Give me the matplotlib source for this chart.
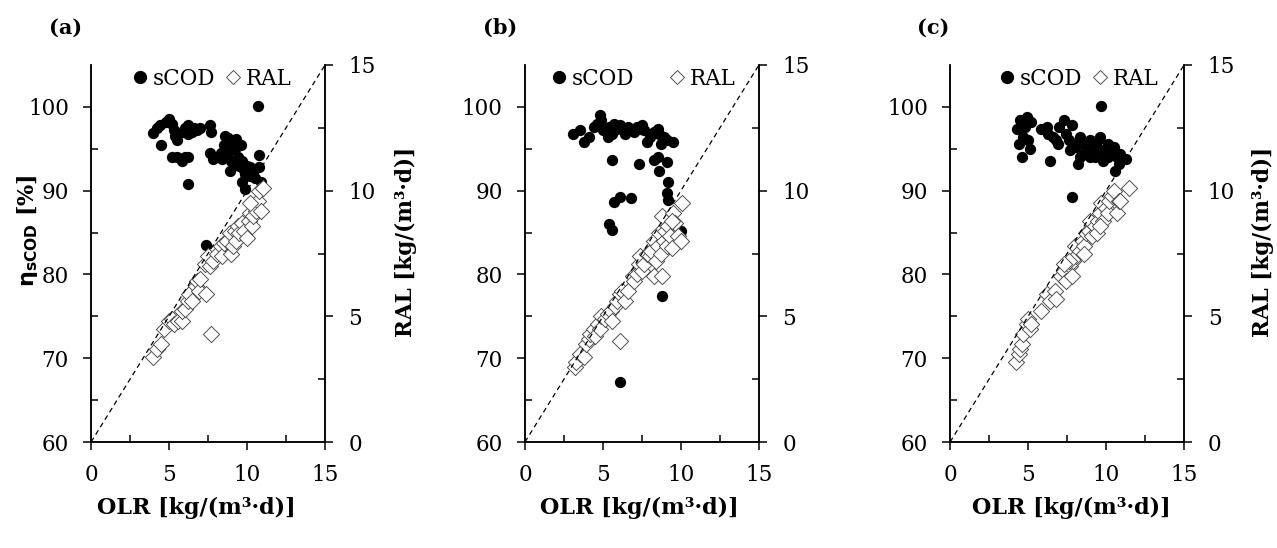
import numpy as np
import matplotlib
matplotlib.use('Agg')
import matplotlib.pyplot as plt
from matplotlib.lines import Line2D

plt.rcParams['font.family'] = 'DejaVu Serif'
plt.rcParams['font.size'] = 15
plt.rcParams['mathtext.fontset'] = 'custom'
plt.rcParams['mathtext.bf'] = 'DejaVu Sans:bold'
plt.rcParams['mathtext.rm'] = 'DejaVu Serif'

# ---- panel (a) ----
a_cod_olr = [4.0, 4.2, 4.4, 4.5, 4.8, 5.0, 5.2, 5.3, 5.4, 5.5, 5.2, 5.5, 5.8, 6.0, 6.2,
             6.2, 5.9, 6.0, 6.2, 6.4, 6.6, 6.8, 7.0, 6.2, 6.5, 7.6, 7.7, 7.6, 7.8, 7.4,
             10.7, 10.8, 10.8, 10.9, 9.9, 9.7, 8.5, 8.6, 8.7, 8.8, 8.9, 9.0, 9.0, 8.9,
             9.2, 9.3, 9.4, 9.5, 9.6, 9.7, 9.8, 10.0, 10.2, 10.4, 10.5, 8.3, 8.4, 8.7,
             9.0, 9.3, 9.9, 10.2]
a_cod_eta = [96.9, 97.5, 97.8, 95.5, 98.2, 98.6, 98.0, 97.3, 96.5, 96.0, 94.0, 94.0, 93.6,
             94.0, 94.0, 90.8, 97.0, 97.5, 97.8, 97.5, 97.5, 97.3, 97.5, 96.8, 97.0, 97.8,
             97.0, 94.5, 93.8, 83.5, 100.1, 94.3, 92.8, 91.0, 90.2, 91.0, 95.5, 96.5, 95.0,
             96.3, 94.8, 95.5, 96.0, 92.4, 95.0, 96.2, 94.0, 93.0, 95.5, 93.5, 92.5, 93.0,
             92.8, 92.0, 91.5, 94.5, 93.8, 94.2, 93.5, 93.2, 92.0, 91.8]
a_ral_olr = [4.0, 4.2, 4.5, 4.7, 5.0, 5.2, 5.3, 5.6, 5.8, 5.8, 6.0, 6.2, 6.3, 6.5, 6.7,
             6.8, 6.9, 7.0, 7.4, 7.7, 7.3, 7.5, 7.6, 7.8, 8.1, 8.3, 8.4, 8.5, 8.7, 8.9,
             9.0, 9.1, 9.2, 9.3, 9.4, 9.5, 9.7, 9.8, 10.0, 10.1, 10.2, 10.3, 10.4, 10.5,
             10.6, 10.7, 10.8, 10.9, 11.0, 10.2]
a_ral = [3.4, 3.7, 3.9, 4.5, 4.8, 4.9, 4.7, 4.8, 4.8, 5.2, 5.3, 5.6, 5.9, 5.6, 6.2,
         6.4, 6.0, 6.5, 5.9, 4.3, 7.1, 7.4, 7.0, 7.2, 7.5, 7.8, 7.4, 7.9, 8.0, 8.3,
         7.5, 7.8, 8.4, 8.0, 8.6, 8.3, 8.7, 8.4, 8.1, 8.8, 9.1, 8.6, 9.0, 9.4,
         9.2, 9.6, 10.0, 9.2, 10.1, 9.5]

# ---- panel (b) ----
b_cod_olr = [3.1, 3.5, 3.8, 4.1, 4.4, 4.6, 4.8, 4.9, 5.0, 5.3, 5.4, 5.6, 5.7, 5.9, 6.1,
             6.4, 6.6, 7.0, 7.2, 7.4, 7.5, 7.6, 7.8, 8.0, 8.3, 8.5, 8.6, 8.7, 8.9, 9.1,
             9.5, 5.6, 7.3, 8.3, 8.6, 8.5, 9.1, 9.2, 9.1, 9.2, 5.7, 6.1, 6.8, 5.4, 5.6,
             8.8, 10.0, 6.1]
b_cod_eta = [96.8, 97.2, 95.8, 96.4, 97.6, 98.0, 99.0, 98.4, 97.2, 96.4, 97.6, 96.8, 98.0,
             97.4, 97.8, 96.8, 97.6, 97.0, 97.6, 97.4, 97.8, 97.2, 95.8, 96.4, 97.0, 97.4,
             96.8, 95.6, 96.4, 96.0, 95.8, 93.7, 93.2, 93.7, 92.4, 94.0, 93.4, 91.0, 89.7,
             88.9, 88.7, 89.3, 89.1, 86.0, 85.3, 77.4, 85.2, 67.2]
b_ral_olr = [3.2, 3.3, 3.5, 3.8, 3.9, 4.1, 4.2, 4.4, 4.5, 4.7, 4.8, 4.9, 5.1, 5.3, 5.5,
             5.6, 5.8, 5.9, 6.1, 6.2, 6.1, 6.4, 6.6, 6.9, 7.0, 7.2, 7.3, 7.4, 7.5, 7.6,
             7.8, 8.0, 8.1, 8.3, 8.3, 8.4, 8.5, 8.6, 8.7, 8.8, 8.8, 8.9, 9.0, 9.1, 9.2,
             9.3, 9.4, 9.5, 9.6, 9.8, 10.0, 10.1, 9.4]
b_ral = [3.0, 3.2, 3.5, 3.4, 3.9, 4.1, 4.3, 4.5, 4.2, 4.7, 4.5, 5.0, 4.9, 5.1, 5.2,
         4.8, 5.4, 5.6, 5.9, 6.0, 4.0, 5.6, 6.0, 6.6, 6.4, 6.7, 7.1, 7.4, 6.8, 7.1,
         7.5, 7.4, 7.6, 6.6, 8.0, 7.2, 7.8, 8.3, 7.5, 9.0, 6.6, 8.0, 8.4, 7.8, 8.6,
         8.2, 7.7, 9.1, 8.7, 8.2, 8.0, 9.5, 8.8]

# ---- panel (c) ----
c_cod_olr = [4.3, 4.4, 4.5, 4.7, 4.8, 4.9, 5.0, 5.1, 5.2, 4.6, 5.8, 6.2, 6.3, 6.4, 6.6,
             6.8, 7.0, 7.3, 7.4, 7.6, 7.8, 7.9, 8.1, 8.2, 8.3, 8.6, 8.6, 8.8, 9.0, 9.2,
             9.3, 9.5, 9.6, 9.7, 9.8, 10.1, 10.3, 10.5, 10.6, 10.7, 10.9, 11.3, 9.7, 7.8,
             6.9, 7.7, 8.3, 9.0, 10.1, 9.4, 10.8]
c_cod_eta = [97.4, 95.6, 98.4, 96.4, 97.6, 98.8, 96.0, 95.0, 98.2, 94.0, 97.4, 97.6, 96.8,
             93.5, 96.4, 96.0, 97.6, 98.4, 96.8, 96.0, 97.8, 95.6, 95.2, 93.2, 96.4, 95.6,
             94.4, 94.8, 96.0, 95.2, 94.0, 96.0, 96.4, 94.8, 93.6, 95.6, 94.8, 95.2, 92.4,
             94.0, 94.4, 93.8, 100.1, 89.3, 95.6, 94.8, 94.0, 94.0, 94.0, 94.4, 93.2]
c_ral_olr = [4.2, 4.4, 4.5, 4.6, 4.7, 4.9, 5.0, 5.1, 5.2, 5.8, 6.2, 6.4, 6.7, 6.8, 7.1,
             7.3, 7.4, 7.7, 7.8, 7.9, 8.0, 8.1, 8.3, 8.5, 8.6, 8.7, 8.9, 9.0, 9.1, 9.3,
             9.4, 9.5, 9.6, 9.7, 9.8, 10.0, 10.1, 10.2, 10.4, 10.5, 10.7, 10.8, 10.9, 11.5,
             7.6, 8.6, 9.6, 7.3]
c_ral = [3.2, 3.5, 3.7, 3.9, 4.3, 4.7, 4.9, 4.5, 4.7, 5.2, 5.9, 5.6, 6.0, 5.7, 6.6,
         6.8, 6.4, 7.0, 6.6, 7.2, 7.8, 7.4, 7.6, 8.0, 7.8, 8.3, 8.4, 8.8, 8.2, 8.6,
         8.3, 8.8, 9.1, 9.5, 8.8, 9.3, 9.1, 9.6, 9.8, 10.0, 9.1, 9.6, 9.6, 10.1,
         7.2, 7.5, 8.6, 7.1]

panels = ['(a)', '(b)', '(c)']
one_to_one = [0, 15]

fig = plt.figure(figsize=(12.77, 5.48), dpi=100)
lefts = [0.0713, 0.4111, 0.7440]
label_x = [0.051, 0.392, 0.731]
xlabel_pos = [0.45, 0.49, 0.52]
ral_label_x = [1.30, None, 1.29]
leg_x = [0.51, 0.50, 0.545]
leg_sp = [0.3, 1.5, 0.3]
data = [(a_cod_olr, a_cod_eta, a_ral_olr, a_ral),
        (b_cod_olr, b_cod_eta, b_ral_olr, b_ral),
        (c_cod_olr, c_cod_eta, c_ral_olr, c_ral)]

for i, (co, ce, ro, rv) in enumerate(data):
    ax = fig.add_axes([lefts[i], 0.1934, 0.1832, 0.688])
    ax2 = ax.twinx()
    ax.scatter(co, ce, s=66, color='black', zorder=3, linewidths=0)
    ax2.scatter(ro, rv, s=68, marker='D', facecolor='white', edgecolor='#505050',
                linewidths=0.7, zorder=3)
    ax2.plot(one_to_one, one_to_one, color='black', lw=0.9, ls=(0, (4, 3)), zorder=4)

    ax.set_xlim(0, 15)
    ax.set_ylim(60, 105)
    ax2.set_ylim(0, 15)
    ax.set_xticks([0, 5, 10, 15])
    ax.set_xticks([2.5, 7.5, 12.5], minor=True)
    ax.set_yticks([60, 70, 80, 90, 100])
    ax.set_yticks([65, 75, 85, 95], minor=True)
    ax2.set_yticks([0, 5, 10, 15])
    ax2.set_yticks([2.5, 7.5, 12.5], minor=True)

    for a in (ax, ax2):
        a.spines['top'].set_visible(False)
        for s in a.spines.values():
            s.set_linewidth(1.1)
        a.tick_params(which='major', direction='out', length=6, width=1.1)
        a.tick_params(which='minor', direction='in', length=5, width=1.1)
    ax.tick_params(axis='both', which='major', pad=10, labelsize=15.5)
    ax2.tick_params(axis='y', which='major', pad=11, labelsize=15.5)

    ax.set_xlabel('OLR [kg/(m³·d)]', fontweight='bold', fontsize=16)
    ax.xaxis.set_label_coords(xlabel_pos[i], -0.145)
    if i == 0:
        ax.set_ylabel(r'$\mathbf{\eta}_{\mathbf{sCOD}}$ [%]', fontweight='bold', fontsize=16)
        ax.yaxis.set_label_coords(-0.22, 0.56)
    if ral_label_x[i] is not None:
        ax2.set_ylabel('RAL [kg/(m³·d)]', fontweight='bold', fontsize=15.5)
        ax2.yaxis.set_label_coords(ral_label_x[i], 0.53)

    handles = [Line2D([], [], marker='o', color='black', ls='none', markersize=8.5),
               Line2D([], [], marker='D', markerfacecolor='white', markeredgecolor='#505050',
                      markeredgewidth=0.7, ls='none', markersize=7)]
    ax2.legend(handles, ['sCOD', 'RAL'], ncol=2, loc='upper center',
               bbox_to_anchor=(leg_x[i], 1.015), frameon=False, fontsize=15.5,
               handletextpad=0.1, columnspacing=leg_sp[i], handlelength=1.0,
               borderaxespad=0)

    fig.text(label_x[i], 0.95, panels[i], fontweight='bold', fontsize=15,
             ha='center', va='center')

plt.savefig('out.png', dpi=100)
